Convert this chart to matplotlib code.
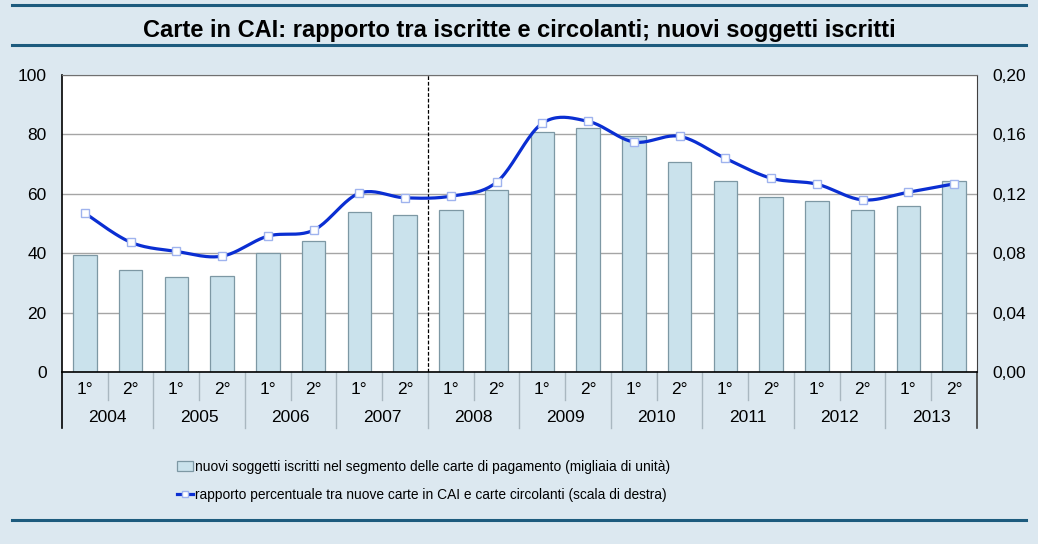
import numpy as np
import matplotlib
matplotlib.use("Agg")
import matplotlib.pyplot as plt
from matplotlib.lines import Line2D
from matplotlib.patches import Patch

plt.rcParams["font.family"] = ["Liberation Sans", "DejaVu Sans"]

# ---- data -------------------------------------------------------------
years = ["2004", "2005", "2006", "2007", "2008", "2009", "2010", "2011", "2012", "2013"]
halves = ["1°", "2°"]
new_subjects = [39.3, 34.3, 31.9, 32.3, 40.0, 44.1, 53.8, 52.8, 54.5, 61.2,
                80.7, 82.1, 79.4, 70.6, 64.2, 59.0, 57.5, 54.5, 55.9, 64.3]
ratio_pct = [0.1070, 0.0874, 0.0812, 0.0780, 0.0915, 0.0955, 0.1204, 0.1173, 0.1184, 0.1278,
             0.1675, 0.1688, 0.1549, 0.1587, 0.1439, 0.1305, 0.1265, 0.1159, 0.1211, 0.1267]
left_ticks = [0, 20, 40, 60, 80, 100]
right_ticks = [0.00, 0.04, 0.08, 0.12, 0.16, 0.20]

title = "Carte in CAI: rapporto tra iscritte e circolanti; nuovi soggetti iscritti"
bar_label = "nuovi soggetti iscritti nel segmento delle carte di pagamento (migliaia di unità)"
line_label = "rapporto percentuale tra nuove carte in CAI e carte circolanti (scala di destra)"

BG = "#dce8f0"
RULE = "#1d5b7e"
BAR_FC = "#cae2ec"
BAR_EC = "#7d98a4"
LINE_C = "#0a2ed2"
SEP_C = "#a9b7c0"


def smooth(x, y, n=24):
    """Excel-like smoothed line (Catmull-Rom bezier)."""
    p = np.column_stack([x, y]).astype(float)
    pts = np.vstack([p[0], p, p[-1]])
    out = []
    for i in range(1, len(pts) - 2):
        p0, p1, p2, p3 = pts[i - 1], pts[i], pts[i + 1], pts[i + 2]
        c1 = p1 + (p2 - p0) / 6.0
        c2 = p2 - (p3 - p1) / 6.0
        t = np.linspace(0, 1, n)[:, None]
        seg = ((1 - t) ** 3) * p1 + 3 * ((1 - t) ** 2) * t * c1 + 3 * (1 - t) * t ** 2 * c2 + t ** 3 * p2
        out.append(seg if i == 1 else seg[1:])
    s = np.vstack(out)
    return s[:, 0], s[:, 1]


fig = plt.figure(figsize=(10.38, 5.44), dpi=100, facecolor=BG)
ax = fig.add_axes([0.0597, 0.3162, 0.8815, 0.5459])
ax.set_facecolor("white")

x = np.arange(len(new_subjects))
ax.bar(x, new_subjects, width=0.51, color=BAR_FC, edgecolor=BAR_EC, linewidth=0.9, zorder=2)
ax.set_xlim(-0.5, len(x) - 0.5)
ax.set_ylim(0, 100)
ax.set_yticks(left_ticks)
ax.set_xticks([])
ax.grid(axis="y", color="#a5a5a5", linewidth=1.0, zorder=0)
ax.set_axisbelow(True)
ax.tick_params(axis="y", length=0, pad=11, labelsize=12.5)
ax.axvline(7.5, color="black", linewidth=0.9, linestyle=(0, (3, 1.5)), zorder=3)
for side in ("left", "bottom"):
    ax.spines[side].set_color("black")
    ax.spines[side].set_linewidth(1.2)
ax.spines["top"].set_color("#707070")
ax.spines["right"].set_color("#404040")

ax2 = ax.twinx()
ax2.set_ylim(0, 0.20)
ax2.set_yticks(right_ticks)
ax2.set_yticklabels([f"{v:.2f}".replace(".", ",") for v in right_ticks])
ax2.tick_params(axis="y", length=0, pad=11, labelsize=12.5)
for s in ax2.spines.values():
    s.set_visible(False)

sx, sy = smooth(x, ratio_pct)
ax2.plot(sx, sy, color=LINE_C, linewidth=2.3, zorder=4, solid_capstyle="round")
ax2.plot(x, ratio_pct, linestyle="none", marker="s", markersize=5.5,
         markerfacecolor="white", markeredgecolor="#9fb3ee", markeredgewidth=1.0, zorder=5)

# two-level category axis
tr = ax.get_xaxis_transform()
row1 = -18 / 297
row2 = -46 / 297
for i in range(len(x)):
    ax.text(i, row1, halves[i % 2], transform=tr, ha="center", va="center", fontsize=12.5)
for j, yr in enumerate(years):
    ax.text(2 * j + 0.5, row2, yr, transform=tr, ha="center", va="center", fontsize=12.5)
for i in range(1, len(x)):
    low = -56 / 297 if i % 2 == 0 else -28 / 297
    ax.plot([i - 0.5, i - 0.5], [0, low], transform=tr, color=SEP_C, linewidth=1.0, clip_on=False)
ax.plot([-0.5, -0.5], [0, -56 / 297], transform=tr, color="black", linewidth=1.2, clip_on=False)
ax.plot([len(x) - 0.5] * 2, [0, -56 / 297], transform=tr, color="#404040", linewidth=1.2, clip_on=False)

# frame rules and title
for yy in (1 - 5 / 544, 1 - 45 / 544, 1 - 520 / 544):
    fig.add_artist(Line2D([0.012, 0.988], [yy, yy], color=RULE, linewidth=2.2))
fig.text(0.5, 1 - 31 / 544, title, ha="center", va="center", fontsize=17, fontweight="bold")

handles = [
    Patch(facecolor=BAR_FC, edgecolor=BAR_EC, linewidth=0.9),
    Line2D([0], [0], color=LINE_C, linewidth=2.3, marker="s", markersize=5,
           markerfacecolor="white", markeredgecolor="#9fb3ee"),
]
fig.legend(handles, [bar_label, line_label], loc="upper left",
           bbox_to_anchor=(177 / 1038, 1 - 460 / 544), frameon=False,
           fontsize=9.9, handlelength=1.15, handletextpad=0.15, labelspacing=1.0,
           borderaxespad=0, borderpad=0)

fig.savefig("out.png", dpi=100, facecolor=BG)
